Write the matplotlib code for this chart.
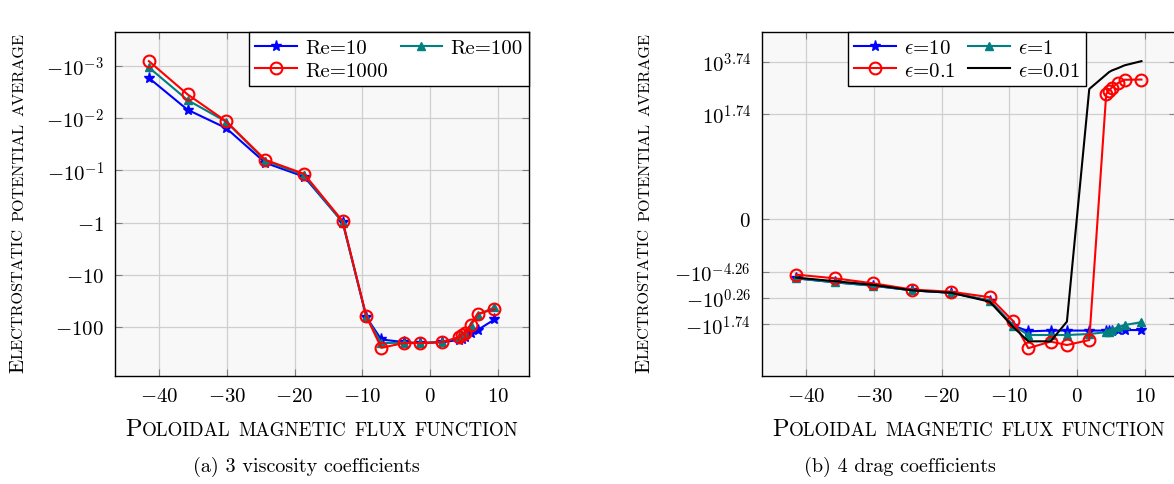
import numpy as np
import matplotlib
matplotlib.use('Agg')
import matplotlib.pyplot as plt
from matplotlib.transforms import offset_copy

plt.rcParams['font.family'] = 'cmr10'
plt.rcParams['mathtext.fontset'] = 'cm'
plt.rcParams['axes.formatter.use_mathtext'] = True

# poloidal magnetic flux function samples (shared by every series)
psi = [-41.5, -35.8, -30.1, -24.3, -18.6, -12.9, -9.4, -7.2, -3.9, -1.5,
       1.8, 4.3, 4.7, 5.1, 6.0, 7.0, 9.5]

# electrostatic potential average, viscosity runs
re10 = [-1.7e-3, -6.9e-3, -0.0155, -0.072, -0.132, -0.98, -65, -174, -195,
        -204, -195, -178, -174, -155, -132, -115, -72]
re100 = [-1.07e-3, -4.5e-3, -0.0117, -0.066, -0.123, -1.0, -65, -204, -200,
         -204, -195, -158, -145, -132, -93, -59, -42]
re1000 = [-8.1e-4, -3.5e-3, -0.0115, -0.063, -0.117, -0.94, -63, -251, -204,
          -204, -195, -158, -141, -129, -91, -56, -46]

# electrostatic potential average, drag runs
eps10 = [-0.97, -1.38, -1.86, -2.81, -3.46, -6.91, -61.6, -102, -95.5,
         -95.5, -95.5, -95.5, -95.5, -95.5, -93, -91.2, -91.2]
eps1 = [-0.97, -1.38, -1.86, -2.81, -3.46, -6.91, -61.6, -141, -141,
        -141, -129, -110, -105, -91.2, -70.8, -58.9, -45.7]
eps01 = [-0.70, -0.97, -1.51, -2.62, -3.16, -5.12, -42.6, -447, -251,
         -339, -219, 324, 436, 562, 832, 1122, 1148]
eps001 = [-0.91, -1.25, -1.73, -2.81, -3.46, -7.58, -70.8, -245, -245,
          -43.6, 501, 1778, 2187, 2511, 3090, 3980, 5753]

left_ticks = [-1e-3, -1e-2, -1e-1, -1, -10, -100]
left_labels = [r'$-10^{-3}$', r'$-10^{-2}$', r'$-10^{-1}$', r'$-1$',
               r'$-10$', r'$-100$']
right_tick_levels = [6, 4, 0, -2, -3, -4]
right_labels = [r'$10^{3.74}$', r'$10^{1.74}$', r'$0$', r'$-10^{-4.26}$',
                r'$-10^{0.26}$', r'$-10^{1.74}$']

K = 10 ** 2.26


def neg_log(y):
    with np.errstate(divide='ignore', invalid='ignore'):
        return -np.log10(-np.asarray(y, dtype=float))


def neg_log_inv(t):
    return -10.0 ** (-np.asarray(t, dtype=float))


def sym_log(y):
    y = np.asarray(y, dtype=float)
    return np.sign(y) * np.log10(1 + np.abs(y) * K)


def sym_log_inv(t):
    t = np.asarray(t, dtype=float)
    return np.sign(t) * (10.0 ** np.abs(t) - 1) / K


def small_caps(fig, x, y, text, size, rotation=0, ratio=0.78):
    """Write text in small caps, centred on (x, y) in figure coords (baseline)."""
    renderer = fig.canvas.get_renderer()
    px = fig.dpi / 72.0
    runs = []
    for ch in text:
        kind = 'space' if ch == ' ' else ('small' if ch.islower() else 'big')
        if runs and runs[-1][1] == kind:
            runs[-1][0] += ch.upper()
        else:
            runs.append([ch.upper(), kind])
    pieces = []
    for s, kind in runs:
        if kind == 'space':
            pieces.append((None, 0.30 * size * px * len(s)))
            continue
        fs = size * ratio if kind == 'small' else size
        t = fig.text(x, y, s, fontsize=fs, rotation=rotation,
                     rotation_mode='anchor', ha='left', va='baseline')
        bb = t.get_window_extent(renderer)
        w = bb.height if rotation == 90 else bb.width
        pieces.append((t, w + 0.4 * px))
    total = sum(w for _, w in pieces)
    pos = -total / 2
    for t, w in pieces:
        if t is not None:
            if rotation == 90:
                t.set_transform(offset_copy(fig.transFigure, fig, x=0, y=pos, units='dots'))
            else:
                t.set_transform(offset_copy(fig.transFigure, fig, x=pos, y=0, units='dots'))
        pos += w


def style_axes(ax):
    ax.set_facecolor('#f8f8f8')
    ax.grid(True, color='#cfcfcf', linewidth=0.9)
    ax.set_axisbelow(True)
    ax.tick_params(direction='in', top=True, right=True, length=5,
                   width=0.8, color='#808080', labelsize=15, pad=8)
    for sp in ax.spines.values():
        sp.set_linewidth(1.0)
    ax.set_xlim(-46.5, 14.6)
    ax.set_xticks([-40, -30, -20, -10, 0, 10])


def row_legend(ax, anchor_x):
    # entries laid out row by row, two per row
    h, lab = ax.get_legend_handles_labels()
    order = list(range(0, len(h), 2)) + list(range(1, len(h), 2))
    ax.legend([h[i] for i in order], [lab[i] for i in order],
              loc='upper right', bbox_to_anchor=(anchor_x, 1.0), ncol=2,
              fontsize=15, frameon=True, fancybox=False, edgecolor='black',
              framealpha=1, borderaxespad=0, handlelength=2,
              handletextpad=0.4, columnspacing=0.6, borderpad=0.3,
              labelspacing=0.2)


fig = plt.figure(figsize=(11.74, 4.85), dpi=100)
ax1 = fig.add_axes([115 / 1174, 108 / 485, 414 / 1174, 344 / 485])
ax2 = fig.add_axes([762 / 1174, 108 / 485, 414 / 1174, 344 / 485])

# left: viscosity coefficients
ax1.set_yscale('function', functions=(neg_log, neg_log_inv))
ax1.plot(psi, re10, color='blue', lw=1.5, marker='*', ms=8, label='Re=10')
ax1.plot(psi, re100, color='teal', lw=1.5, marker='^', ms=6, label='Re=100')
ax1.plot(psi, re1000, color='red', lw=1.5, marker='o', ms=8.5, mfc='none',
         mew=1.5, label='Re=1000')
ax1.set_ylim(neg_log_inv(-2.94), neg_log_inv(3.65))
ax1.set_yticks(left_ticks)
ax1.set_yticklabels(left_labels)
style_axes(ax1)
row_legend(ax1, 1.0)

# right: drag coefficients
ax2.set_yscale('function', functions=(sym_log, sym_log_inv))
ax2.plot(psi, eps10, color='blue', lw=1.5, marker='*', ms=8, label=r'$\epsilon$=10')
ax2.plot(psi, eps1, color='teal', lw=1.5, marker='^', ms=6, label=r'$\epsilon$=1')
ax2.plot(psi, eps01, color='red', lw=1.5, marker='o', ms=8.5, mfc='none',
         mew=1.5, label=r'$\epsilon$=0.1')
ax2.plot(psi, eps001, color='black', lw=1.5, label=r'$\epsilon$=0.01')
ax2.set_ylim(sym_log_inv(-5.97), sym_log_inv(7.13))
ax2.set_yticks(sym_log_inv(right_tick_levels))
ax2.set_yticklabels(right_labels)
style_axes(ax2)
row_legend(ax2, 0.783)

# axis titles in small caps and subfigure captions
small_caps(fig, 322 / 1174, 49 / 485, 'Poloidal magnetic flux function', 17.5)
small_caps(fig, 969 / 1174, 49 / 485, 'Poloidal magnetic flux function', 17.5)
small_caps(fig, 23 / 1174, 282 / 485, 'Electrostatic potential average', 15, rotation=90)
small_caps(fig, 649 / 1174, 282 / 485, 'Electrostatic potential average', 15, rotation=90)
fig.text(306 / 1174, 18 / 485, '(a) 3 viscosity coefficients', fontsize=14.5,
         ha='center', va='center')
fig.text(900 / 1174, 18 / 485, '(b) 4 drag coefficients', fontsize=14.5,
         ha='center', va='center')

fig.savefig('out.png', dpi=100)
